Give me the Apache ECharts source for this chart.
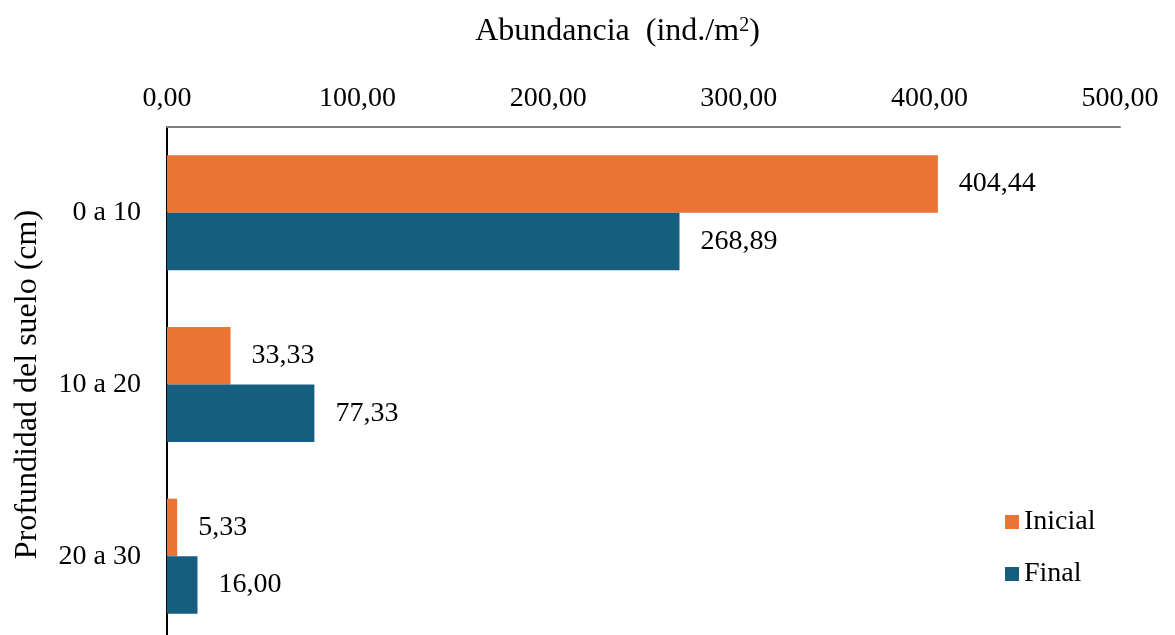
<!DOCTYPE html>
<html>
<head>
<meta charset="utf-8">
<script src="https://cdn.jsdelivr.net/npm/echarts@6/dist/echarts.min.js"></script>
<style>
    html, body { margin: 0; padding: 0; background: #fff; }
    #chart { width: 1175px; height: 635px; }
</style>
</head>
<body>
<div id="chart"></div>
<script>
    // datos
    const categorias = ['0 a 10', '10 a 20', '20 a 30']
    const inicial = [404.44, 33.33, 5.33]
    const final = [268.89, 77.33, 16.00]
    const ticks = [0, 100, 200, 300, 400, 500]

    const fuente = 'Liberation Serif'
    const coma = v => v.toFixed(2).replace('.', ',')

    let myChart = echarts.init(document.getElementById('chart'))
    let etiqueta = {
        show: true,
        position: 'right',
        distance: 21,
        fontFamily: fuente,
        fontSize: 28,
        color: '#000',
        formatter: p => coma(p.value)
    }
    let option = {
        animation: false,
        textStyle: { fontFamily: fuente },
        grid: {
            left: 167,
            top: 127,
            width: 953,
            height: 515,
            outerBoundsMode: 'none'
        },
        legend: {
            orient: 'vertical',
            left: 1000,
            top: 503,
            icon: 'rect',
            itemWidth: 14,
            itemHeight: 14,
            itemGap: 24,
            textStyle: { fontFamily: fuente, fontSize: 28, color: '#000' },
            data: ['Inicial', 'Final']
        },
        xAxis: {
            type: 'value',
            position: 'top',
            min: ticks[0],
            max: ticks[ticks.length - 1],
            interval: 100,
            name: '{a|Abundancia  (ind./m}{s|2}{a|)}',
            nameLocation: 'middle',
            nameGap: 79,
            nameTextStyle: {
                padding: [0, 52, 0, 0],
                rich: {
                    a: { fontFamily: fuente, fontSize: 32, color: '#000' },
                    s: { fontFamily: fuente, fontSize: 20, color: '#000', verticalAlign: 'top', padding: [0, 0, 12, 0] }
                }
            },
            axisLine: { show: true, lineStyle: { color: '#7f7f7f', width: 2 } },
            axisTick: { show: false },
            splitLine: { show: false },
            axisLabel: {
                margin: 14,
                fontFamily: fuente,
                fontSize: 28,
                color: '#000',
                formatter: v => coma(v)
            }
        },
        yAxis: {
            type: 'category',
            inverse: true,
            data: categorias,
            name: 'Profundidad del suelo (cm)',
            nameLocation: 'middle',
            nameGap: 123,
            nameRotate: 90,
            nameTextStyle: { fontFamily: fuente, fontSize: 32, color: '#000' },
            axisLine: { show: true, lineStyle: { color: '#000', width: 2 } },
            axisTick: { show: false },
            axisLabel: { margin: 26, fontFamily: fuente, fontSize: 28, color: '#000' }
        },
        series: [
            {
                name: 'Inicial',
                type: 'bar',
                data: inicial,
                barGap: '0%',
                barCategoryGap: '33%',
                itemStyle: { color: '#ea7434' },
                label: etiqueta
            },
            {
                name: 'Final',
                type: 'bar',
                data: final,
                barGap: '0%',
                barCategoryGap: '33%',
                itemStyle: { color: '#155e7f' },
                label: etiqueta
            }
        ]
    }
    myChart.setOption(option)
</script>
</body>
</html>
